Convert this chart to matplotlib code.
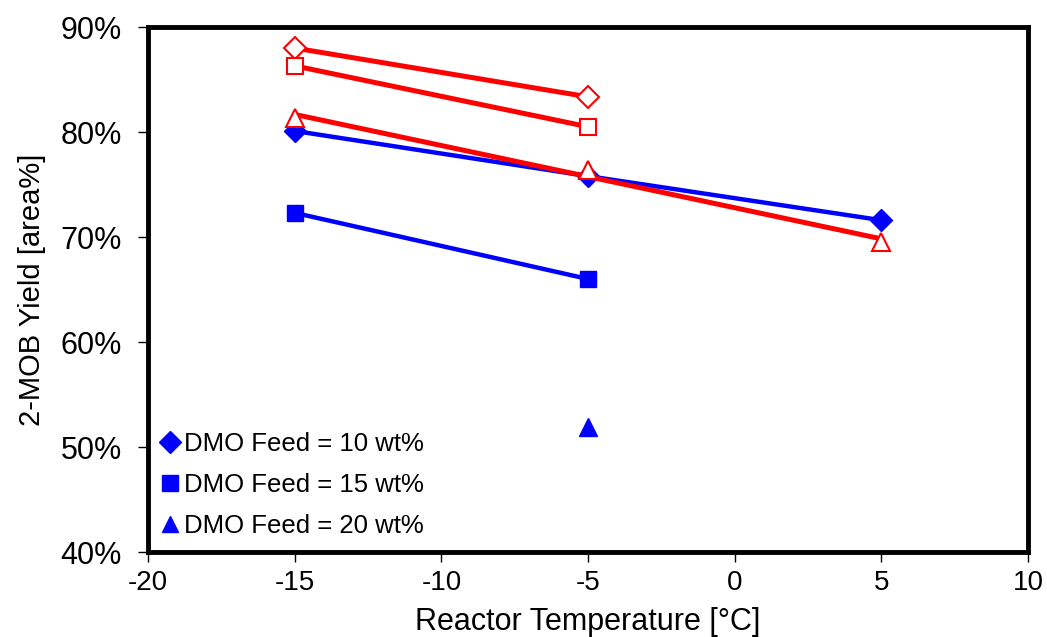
import numpy as np
import matplotlib.pyplot as plt
from matplotlib.ticker import FuncFormatter

plt.rcParams['font.family'] = ['Liberation Sans', 'DejaVu Sans']
plt.rcParams['axes.unicode_minus'] = False

# blue (filled) series
temp_10 = [-15, -5, 5]
yield_10 = [80.1, 75.8, 71.6]
temp_15 = [-15, -5]
yield_15 = [72.3, 66.0]
temp_20 = [-5]
yield_20 = [51.9]

# red (open) series with trend lines
temp_10r = [-15, -5]
yield_10r = [88.0, 83.35]
temp_15r = [-15, -5]
yield_15r = [86.3, 80.5]
temp_20r = [-15, -5, 5]
yield_20r = [81.35, 76.4, 69.5]

BLUE = "#0000ff"
RED = "#ff0000"

fig = plt.figure(figsize=(10.47, 6.37), dpi=100)
ax = fig.add_axes([0.1414, 0.1334, 0.8405, 0.8242])

# red trend lines
for xs, ys in [(temp_10r, yield_10r), (temp_15r, yield_15r), (temp_20r, yield_20r)]:
    k, b = np.polyfit(xs, ys, 1)
    xx = np.array([min(xs), max(xs)])
    ax.plot(xx, k * xx + b, color=RED, lw=3.6, zorder=3, solid_capstyle='round')

# blue series
ax.plot(temp_10, yield_10, color=BLUE, lw=3.2, marker='D', ms=11, label='DMO Feed = 10 wt%', zorder=2)
ax.plot(temp_15, yield_15, color=BLUE, lw=3.2, marker='s', ms=12, label='DMO Feed = 15 wt%', zorder=2)
ax.plot(temp_20, yield_20, color=BLUE, lw=3.2, marker='^', ms=13, label='DMO Feed = 20 wt%', zorder=2)

# red open markers
ax.plot(temp_10r, yield_10r, ls='none', marker='D', ms=11, mfc='white', mec=RED, mew=1.5, zorder=4)
ax.plot(temp_15r, yield_15r, ls='none', marker='s', ms=12, mfc='white', mec=RED, mew=1.5, zorder=4)
ax.plot(temp_20r, yield_20r, ls='none', marker='^', ms=13, mfc='white', mec=RED, mew=1.5, zorder=4)

ax.set_xlim(-20, 10)
ax.set_ylim(40, 90)
ax.set_xticks([-20, -15, -10, -5, 0, 5, 10])
ax.set_yticks([40, 50, 60, 70, 80, 90])
ax.yaxis.set_major_formatter(FuncFormatter(lambda v, p: f"{v:.0f}%"))
ax.tick_params(axis='y', labelsize=22, length=7, width=1, direction='out', pad=12)
ax.tick_params(axis='x', labelsize=20, length=7, width=1, direction='out', pad=6)

for s in ax.spines.values():
    s.set_linewidth(3.5)

ax.set_xlabel("Reactor Temperature [°C]", fontsize=22, labelpad=8)
ax.set_ylabel("2-MOB Yield [area%]", fontsize=21, labelpad=10)

leg = ax.legend(loc='lower left', bbox_to_anchor=(0.0, 0.0), frameon=False, fontsize=18.5,
                handlelength=0.6, handletextpad=0.25, labelspacing=0.65, numpoints=1,
                borderaxespad=0.15)
for h in leg.legend_handles:
    h.set_linestyle('none')
    h.set_markersize(11)

fig.savefig("out.png", dpi=100)
